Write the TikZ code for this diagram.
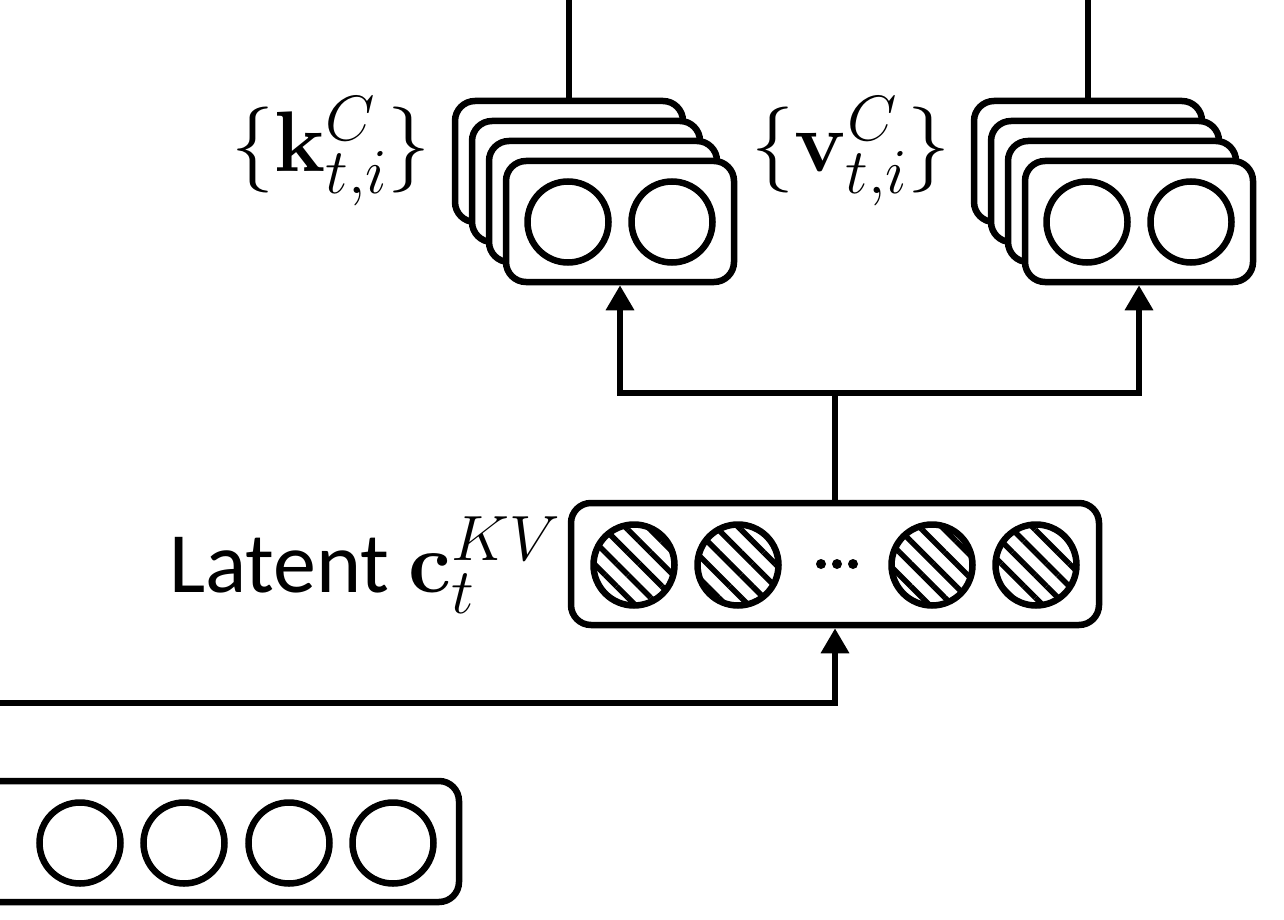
\documentclass[tikz,border=0pt]{standalone}
\usepackage{fix-cm}
\usepackage[no-math]{fontspec}
\setmainfont{Carlito}
\newcommand{\scr}[1]{\mbox{\fontsize{64}{64}\selectfont$#1$}}
\usetikzlibrary{arrows.meta,patterns.meta}
\tikzset{
  every picture/.style={line width=6.5pt},
  vecbox/.style={draw, fill=white, rounded corners=20pt, rectangle, inner sep=0pt,
                 minimum width=228pt, minimum height=121pt},
  unit/.style={draw, circle, inner sep=0pt, minimum size=81pt},
  hunit/.style={unit, pattern={Lines[angle=-45, distance=16pt, line width=5.5pt]}},
  dotst/.style={circle, fill=black, inner sep=0pt, minimum size=10pt},
  conn/.style={line width=6.5pt},
  arr/.style={conn, -{Triangle[length=25pt, width=27pt]}},
  lbl/.style={inner sep=0pt, font=\fontsize{86}{96}\selectfont}
}
\begin{document}
\begin{tikzpicture}[x=1pt, y=-1pt]
\useasboundingbox (0,0) rectangle (1284,920);
\clip (0,0) rectangle (1284,920);

% ---------- key stack ----------
\node[vecbox] (k1) at (569,161.5) {};
\node[vecbox] (k2) at (586,181.5) {};
\node[vecbox] (k3) at (603,201.5) {};
\node[vecbox] (k4) at (620,221.5) {};
\node[unit] (kc1) at (568,222) {};
\node[unit] (kc2) at (672,222) {};
\coordinate (ktop) at (569,-10);
\draw[conn] (ktop) -- (k1.north);
\node[lbl, anchor=base east] (klab) at (434,172) {$\{\mathbf{k}^{\scr{C}}_{\scr{t{,}i}}\}$};

% ---------- value stack ----------
\node[vecbox] (v1) at (1088,161.5) {};
\node[vecbox] (v2) at (1105,181.5) {};
\node[vecbox] (v3) at (1122,201.5) {};
\node[vecbox] (v4) at (1139,221.5) {};
\node[unit] (vc1) at (1087,222) {};
\node[unit] (vc2) at (1191,222) {};
\coordinate (vtop) at (1088,-10);
\draw[conn] (vtop) -- (v1.north);
\node[lbl, anchor=base east] (vlab) at (954,172) {$\{\mathbf{v}^{\scr{C}}_{\scr{t{,}i}}\}$};

% ---------- latent ----------
\node[vecbox, minimum width=528pt, minimum height=122pt] (lat) at (835,564) {};
\node[hunit] (l1) at (634,565) {};
\node[hunit] (l2) at (738,565) {};
\node[hunit] (l3) at (932,565) {};
\node[hunit] (l4) at (1036,565) {};
\node[dotst] (d1) at (821,564) {};
\node[dotst] (d2) at (837,564) {};
\node[dotst] (d3) at (853,564) {};
\node[lbl, anchor=base east] (llab) at (564,592) {Latent $\mathbf{c}^{\scr{KV}}_{\scr{t}}$};

% ---------- input ----------
\node[vecbox, minimum width=520pt, minimum height=121pt] (inp) at (199,841.5) {};
\node[unit] (i1) at (80,843) {};
\node[unit] (i2) at (184,843) {};
\node[unit] (i3) at (289,843) {};
\node[unit] (i4) at (393,843) {};

% ---------- connectors ----------
\coordinate (split) at (835,393);
\draw[conn] (lat.north) -- (split);
\draw[arr] (split) -| (k4.south);
\draw[arr] (split) -| (v4.south);
\coordinate (inl) at (-10,703);
\draw[arr] (inl) -| (lat.south);
\end{tikzpicture}
\end{document}
